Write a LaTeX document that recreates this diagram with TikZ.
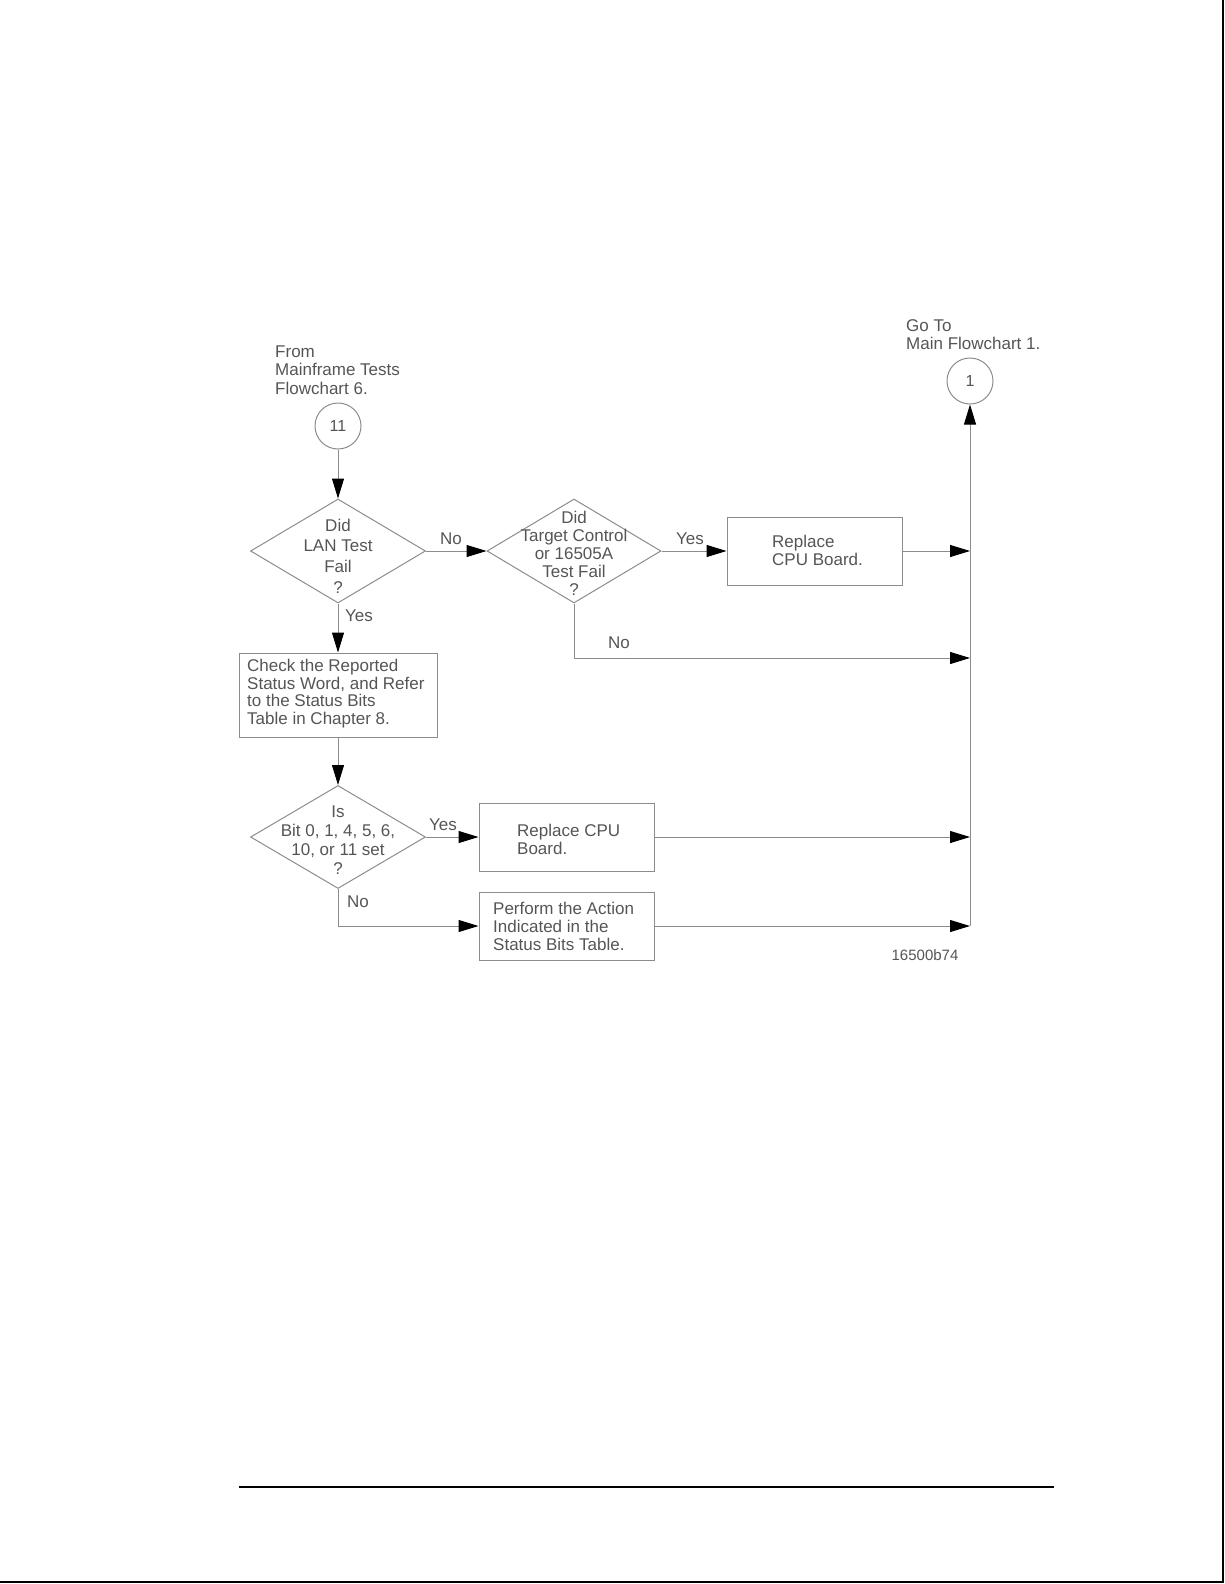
\documentclass[tikz,border=0pt]{standalone}
\usepackage{fontspec}
\setmainfont{Liberation Sans}
\usetikzlibrary{shapes.geometric,arrows.meta}
\definecolor{linegray}{HTML}{8C8C8C}
\definecolor{textgray}{HTML}{555555}
\tikzset{
  x=1pt, y=-1pt,
  shapeline/.style={draw=linegray, line width=1pt},
  dia/.style={shapeline, shape=diamond, minimum width=175pt, minimum height=104pt, inner sep=0pt},
  boxn/.style={shapeline, rectangle, inner sep=0pt},
  conn/.style={shapeline, circle, minimum size=46pt, inner sep=0pt, text=textgray, font=\fontsize{16}{18}\selectfont},
  txt/.style={text=textgray, inner sep=0pt, font=\fontsize{17}{18}\selectfont},
  ltxt/.style={txt, align=left, anchor=west},
  arr/.style={draw=linegray, line width=1pt, -{Triangle[length=20pt,width=12pt,color=black,fill=black]}},
  ln/.style={draw=linegray, line width=1pt},
}
\begin{document}
\begin{tikzpicture}
\useasboundingbox (0,0) rectangle (1224,1584);
% page frame
\draw[line width=2pt] (1223,0) -- (1223,1582) -- (0,1582);
\draw[line width=1.5pt] (239,1487) -- (1054,1487);

% start text and connector
\node[ltxt, font=\fontsize{17}{18.5}\selectfont] (fromtxt) at (275,370) {From\\Mainframe Tests\\Flowchart 6.};
\node[conn] (c11) at (338,426) {11};

% diamond 1
\node[dia] (d1) at (338,551) {};
\node[txt, align=center, font=\fontsize{17}{20.7}\selectfont] (d1t) at (338,556) {Did\\LAN Test\\Fail\\?};

% diamond 2
\node[dia, minimum width=174pt] (d2) at (574,551) {};
\node[txt, align=center, font=\fontsize{17}{18}\selectfont] (d2t) at (574,553.5) {Did\\Target Control\\or 16505A\\Test Fail\\?};

% box 1
\node[boxn, minimum width=175pt, minimum height=68pt] (b1) at (814.5,551) {};
\node[ltxt] (b1t) at (772,550) {Replace\\CPU Board.};

% go to connector
\node[ltxt] (gotxt) at (906,334.5) {Go To\\Main Flowchart 1.};
\node[conn] (c1) at (970,381) {1};

% trunk coordinates
\coordinate (t1) at (970,551);
\coordinate (t2) at (970,658);
\coordinate (t3) at (970,837);
\coordinate (t4) at (970,926);

% check box
\node[boxn, minimum width=198pt, minimum height=84pt] (bc) at (338,695) {};
\node[ltxt, font=\fontsize{17}{17.7}\selectfont] (bct) at (247,693.5) {Check the Reported\\Status Word, and Refer\\to the Status Bits\\Table in Chapter 8.};

% diamond 3
\node[dia, minimum height=103pt] (d3) at (338,837) {};
\node[txt, align=center, font=\fontsize{17}{19}\selectfont] (d3t) at (338,840.5) {Is\\Bit 0, 1, 4, 5, 6,\\10, or 11 set\\?};

% box 2
\node[boxn, minimum width=175pt, minimum height=68pt] (b2) at (566.5,837) {};
\node[ltxt] (b2t) at (517,839.5) {Replace CPU\\Board.};

% box 3
\node[boxn, minimum width=175pt, minimum height=68pt] (b3) at (566.5,926) {};
\node[ltxt] (b3t) at (493,926) {Perform the Action\\Indicated in the\\Status Bits Table.};

\coordinate (d2turn) at (574,658);
\coordinate (d3turn) at (338,926);

% connectors
\draw[arr] (c11) -- (d1);
\draw[arr] (d1) -- (d2);
\draw[arr] (d2) -- (b1);
\draw[arr] (b1) -- (t1);
\draw[ln] (d2.south) -- (d2turn);
\draw[arr] (d2turn) -- (t2);
\draw[arr] (d1) -- (bc);
\draw[arr] (bc) -- (d3);
\draw[arr] (d3) -- (b2);
\draw[arr] (b2) -- (t3);
\draw[ln] (d3.south) -- (d3turn);
\draw[arr] (d3turn) -- (b3);
\draw[arr] (b3) -- (t4);
\draw[arr] (t4) -- (c1);

% labels
\node[txt] (lno1) at (451,539) {No};
\node[txt] (lyes1) at (690,539) {Yes};
\node[txt] (lyes2) at (359,616) {Yes};
\node[txt] (lno2) at (619,643) {No};
\node[txt] (lyes3) at (443,825) {Yes};
\node[txt] (lno3) at (358,902) {No};
\node[txt, font=\fontsize{15}{18}\selectfont] (fig) at (925,955) {16500b74};
\end{tikzpicture}
\end{document}
